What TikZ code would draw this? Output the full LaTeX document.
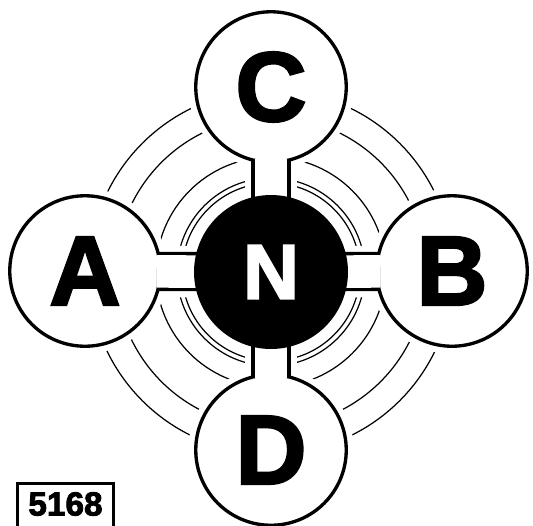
\documentclass[tikz,border=0pt]{standalone}
\usepackage{fontspec}
\setmainfont{Liberation Sans}
\newfontfamily\nero[FakeBold=2.5]{Liberation Sans Bold}
\usetikzlibrary{calc}
\pgfdeclarelayer{background}
\pgfdeclarelayer{front}
\pgfsetlayers{background,main,front}

\begin{document}
\begin{tikzpicture}[x=0.02cm, y=0.02cm,
  ball/.style={circle, draw, line width=1.9pt, fill=white, minimum size=3.01cm, inner sep=0pt,
    font=\fontsize{56}{56}\selectfont\nero, preaction={draw=white, line width=8.5pt}},
  nucleo/.style={circle, fill=black, text=white, minimum size=3.08cm, inner sep=0pt,
    font=\fontsize{44}{44}\selectfont\nero},
  ring/.style={line width=0.7pt},
  gap/.style={draw=white, line width=1.03cm},
  stem/.style={line width=1.9pt, double=white, double distance=0.652cm},
  tag/.style={draw, line width=1.7pt, minimum width=1.92cm, inner ysep=0.16cm,
    text height=0.48cm, text depth=0.7cm, font=\fontsize{19}{19}\selectfont\nero}]

\useasboundingbox (0,0) rectangle (533,525);

% nucleo centrale
\begin{pgfonlayer}{front}
\node[nucleo] (N) at (271,253) {N};
\end{pgfonlayer}

% atomi esterni
\node[ball] (A) at (85,254) {A};
\node[ball] (B) at (452,254) {B};
\node[ball] (C) at (271,438) {C};
\node[ball] (D) at (271,75) {D};

% orbite concentriche, interrotte dai legami
\begin{pgfonlayer}{background}
\foreach \r in {89,94,115,155,182}
  \draw[ring] (N.center) circle (\r);
\foreach \p in {A,B,C,D}
  \draw[gap] (\p.center) -- (N.center);
\end{pgfonlayer}

% legami
\foreach \p in {A,B,C,D}
  \draw[stem] ($(\p)!1.44cm!(N)$) -- (N.center);

% sigla
\node[tag, anchor=north west] (sigla) at (16,43) {5168};

\end{tikzpicture}
\end{document}
